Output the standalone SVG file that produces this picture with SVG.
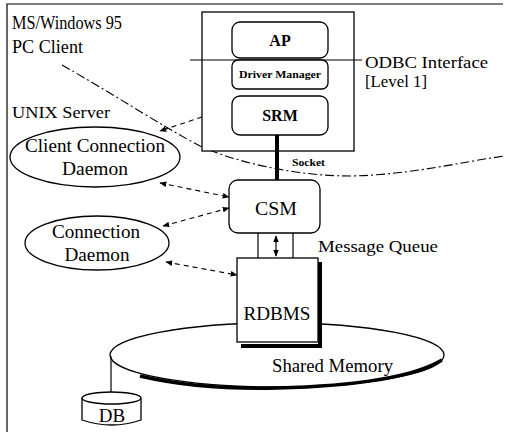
<svg xmlns="http://www.w3.org/2000/svg" width="506" height="432" viewBox="0 0 506 432" font-family="'Liberation Serif','DejaVu Serif','Times New Roman',serif">
<style>
text{font-family:'Liberation Serif','DejaVu Serif','Times New Roman',serif;fill:#000}
.box{fill:#fff;stroke:#000;stroke-width:1.3}
.ln{fill:none;stroke:#000;stroke-width:1.2}
.dash{fill:none;stroke:#000;stroke-width:1.1;stroke-dasharray:5 4}
.dd{fill:none;stroke:#000;stroke-width:1.1;stroke-dasharray:9 3 2 3}
</style>
<defs>
<marker id="ah" viewBox="0 0 10 10" refX="9" refY="5" markerWidth="7" markerHeight="7" orient="auto-start-reverse" markerUnits="userSpaceOnUse">
<path d="M0,1 L10,5 L0,9 Z" fill="#000"/>
</marker>
</defs>
<rect width="506" height="432" fill="#fff"/>
<path class="ln" d="M7,432 V4 H503"/>
<g id="labels">
<text x="12" y="29" font-size="18" textLength="110" lengthAdjust="spacingAndGlyphs">MS/Windows 95</text>
<text x="12" y="53" font-size="18" textLength="71" lengthAdjust="spacingAndGlyphs">PC Client</text>
<text x="12" y="118" font-size="17" textLength="98" lengthAdjust="spacingAndGlyphs">UNIX Server</text>
<text x="365" y="68" font-size="17" textLength="123" lengthAdjust="spacingAndGlyphs">ODBC Interface</text>
<text x="365" y="87" font-size="17" textLength="62" lengthAdjust="spacingAndGlyphs">[Level 1]</text>
<text x="318" y="252" font-size="17" textLength="120" lengthAdjust="spacingAndGlyphs">Message Queue</text>
</g>
<g id="boundary">
<path class="dd" d="M62,65 C110,92 160,125 200,146 C240,164 300,176 350,176 C410,175 460,162 505,156"/>
</g>
<g id="client">
<rect class="box" x="202" y="12" width="152" height="139"/>
</g>
<g id="shared-memory">
<ellipse cx="277" cy="355" rx="167" ry="32" class="box"/>
<path fill="none" stroke="#000" stroke-width="3.5" d="M140,376 Q200,390 277,388 Q400,385 442,360"/>
<text x="272" y="372" font-size="18" textLength="121" lengthAdjust="spacingAndGlyphs">Shared Memory</text>
</g>
<g id="connectors">
<line x1="190" y1="60" x2="362" y2="60" stroke="#000" stroke-width="1.2"/>
<line x1="277" y1="135" x2="277" y2="180" stroke="#000" stroke-width="4"/>
<text x="292" y="166" font-size="10" font-weight="bold" textLength="33" lengthAdjust="spacingAndGlyphs">Socket</text>
<line class="dash" x1="202" y1="117" x2="160" y2="131" marker-end="url(#ah)"/>
<line class="dash" x1="160" y1="183" x2="229" y2="197" marker-start="url(#ah)" marker-end="url(#ah)"/>
<line class="dash" x1="229" y1="208" x2="163" y2="226" marker-start="url(#ah)" marker-end="url(#ah)"/>
<line class="dash" x1="166" y1="262" x2="237" y2="275" marker-start="url(#ah)" marker-end="url(#ah)"/>
<line x1="258" y1="233" x2="258" y2="258" stroke="#000" stroke-width="1.2"/>
<line x1="293" y1="233" x2="293" y2="258" stroke="#000" stroke-width="1.2"/>
<line x1="276" y1="236" x2="276" y2="256" stroke="#000" stroke-width="1.2" marker-start="url(#ah)" marker-end="url(#ah)"/>
<line x1="111" y1="356" x2="111" y2="393" stroke="#000" stroke-width="1.2"/>
</g>
<g id="ap">
<rect class="box" x="232" y="22" width="96" height="36" rx="8"/>
<text x="280" y="46" font-size="16" font-weight="bold" text-anchor="middle">AP</text>
</g>
<g id="driver-manager">
<rect class="box" x="232" y="60" width="96" height="29" rx="6"/>
<text x="280" y="78" font-size="10" font-weight="bold" text-anchor="middle" textLength="82" lengthAdjust="spacingAndGlyphs">Driver Manager</text>
</g>
<g id="srm">
<rect class="box" x="232" y="96" width="96" height="39" rx="8"/>
<text x="280" y="121" font-size="16" font-weight="bold" text-anchor="middle">SRM</text>
</g>
<g id="ccd">
<ellipse cx="95" cy="157" rx="85" ry="30" class="box"/>
<text x="95" y="152" font-size="19" text-anchor="middle" textLength="140" lengthAdjust="spacingAndGlyphs">Client Connection</text>
<text x="95" y="175" font-size="19" text-anchor="middle" textLength="66" lengthAdjust="spacingAndGlyphs">Daemon</text>
</g>
<g id="cd">
<ellipse cx="97" cy="243" rx="72" ry="27" class="box"/>
<text x="96" y="238" font-size="19" text-anchor="middle" textLength="88" lengthAdjust="spacingAndGlyphs">Connection</text>
<text x="97" y="261" font-size="19" text-anchor="middle" textLength="65" lengthAdjust="spacingAndGlyphs">Daemon</text>
</g>
<g id="csm">
<rect class="box" x="229" y="180" width="91" height="53" rx="9"/>
<text x="276" y="215" font-size="19" text-anchor="middle" textLength="42" lengthAdjust="spacingAndGlyphs">CSM</text>
</g>
<g id="rdbms">
<path d="M320,262 V346 H241" fill="none" stroke="#000" stroke-width="4"/>
<rect class="box" x="237" y="258" width="81" height="84"/>
<text x="277" y="320" font-size="19" text-anchor="middle" textLength="67" lengthAdjust="spacingAndGlyphs">RDBMS</text>
</g>
<g id="db">
<path class="box" d="M82,398 V420 Q112,430 141,420 V398"/>
<ellipse cx="111.5" cy="398" rx="29.5" ry="6" class="box"/>
<text x="112" y="422" font-size="19" text-anchor="middle">DB</text>
</g>
</svg>
